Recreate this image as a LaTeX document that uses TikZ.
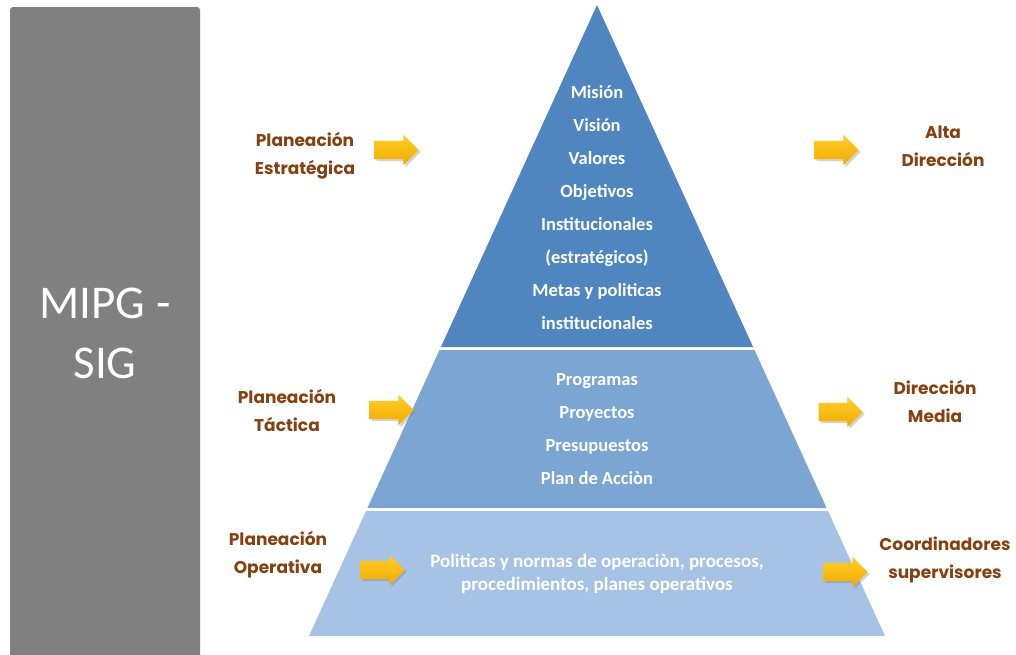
\documentclass[tikz,border=0pt]{standalone}
\usepackage{fontspec}
\setmainfont{Carlito}
\newfontfamily\labelfont{Poppins}
\usetikzlibrary{shapes.arrows, shadows}

\definecolor{topblue}{RGB}{80,134,192}
\definecolor{midblue}{RGB}{123,165,211}
\definecolor{lowblue}{RGB}{166,194,228}
\definecolor{sidegray}{RGB}{128,128,128}
\definecolor{labelbrown}{RGB}{135,64,16}
\definecolor{arrowtop}{RGB}{255,206,40}
\definecolor{arrowbot}{RGB}{242,170,0}

\begin{document}
\begin{tikzpicture}[x=1pt, y=-1pt,
    level/.style={align=center, text=white, font=\bfseries\fontsize{18.5}{33}\selectfont},
    side/.style={align=center, text=labelbrown, font=\labelfont\bfseries\fontsize{17}{28}\selectfont},
    yarrow/.style={single arrow, draw=none, top color=arrowtop, bottom color=arrowbot,
      minimum height=44pt, inner xsep=0pt, inner ysep=9pt, single arrow head extend=6pt,
      drop shadow={opacity=0.35, shadow xshift=2pt, shadow yshift=-2pt}},
  ]
    \useasboundingbox (0,0) rectangle (1016,654);

    % Side panel
    \fill[sidegray, rounded corners=3pt] (10,7) rectangle (200,670);
    \node[text=white, align=center, font=\fontsize{47}{60}\selectfont] (mipg) at (105,333) {MIPG -\\SIG};

    % Pyramid levels
    \fill[topblue] (597,5) -- (753.1,347) -- (440.9,347) -- cycle;
    \fill[midblue] (439.5,350) -- (754.5,350) -- (826.6,508) -- (367.4,508) -- cycle;
    \fill[lowblue] (366,511) -- (828,511) -- (885,636) -- (309,636) -- cycle;

    \node[level] (estrategico) at (597,208) {Misión\\Visión\\Valores\\Objetivos\\Institucionales\\(estratégicos)\\Metas y politicas\\institucionales};
    \node[level] (tactico) at (597,429) {Programas\\Proyectos\\Presupuestos\\Plan de Acciòn};
    \node[level, font=\bfseries\fontsize{19}{23}\selectfont] (operativo) at (597,574) {Politicas y normas de operaciòn, procesos,\\procedimientos, planes operativos};

    % Planning labels
    \node[side] (pe) at (305,156) {Planeación\\Estratégica};
    \node[side] (pt) at (287,410) {Planeación\\Táctica};
    \node[side] (po) at (278,555) {Planeación\\Operativa};

    % Management labels
    \node[side] (ad) at (943,146) {Alta\\Dirección};
    \node[side] (dm) at (935,401) {Dirección\\Media};
    \node[side] (cs) at (945,560) {Coordinadores\\supervisores};

    % Arrows
    \node[yarrow] (a1) at (392,150) {};
    \node[yarrow] (a2) at (387,410) {};
    \node[yarrow] (a3) at (378,570) {};
    \node[yarrow] (b1) at (832,150) {};
    \node[yarrow] (b2) at (836,412) {};
    \node[yarrow] (b3) at (841,572) {};

  \end{tikzpicture}
\end{document}
